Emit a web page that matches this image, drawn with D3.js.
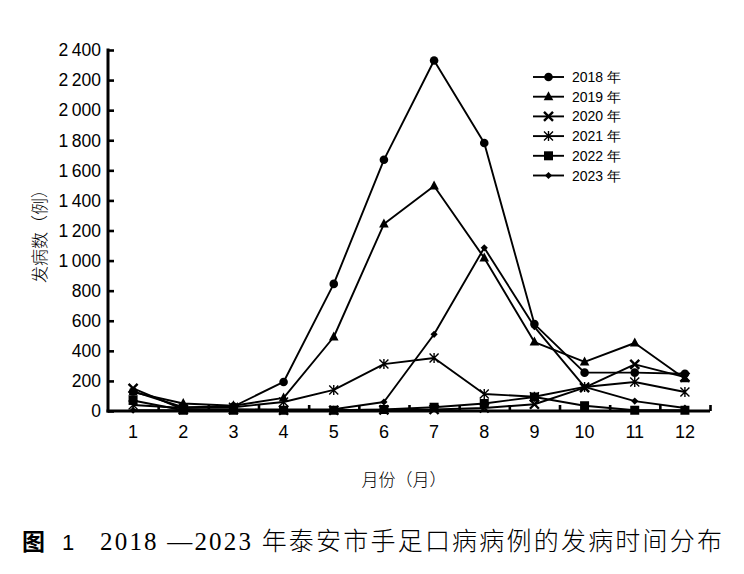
<!DOCTYPE html>
<html><head><meta charset="utf-8">
<script src="https://cdn.jsdelivr.net/npm/d3@7/dist/d3.min.js"></script>
<style>body{margin:0;background:#fff}svg{display:block}</style>
</head><body>
<svg id="c" width="744" height="574"></svg>
<script>
const months = [1,2,3,4,5,6,7,8,9,10,11,12];
const yTicks = [0,200,400,600,800,1000,1200,1400,1600,1800,2000,2200,2400];
const seriesNames = ["2018 年","2019 年","2020 年","2021 年","2022 年","2023 年"];
const markers = ["circle","triangle","cross","asterisk","square","diamond"];
const v2018 = [130, 25, 30, 193, 845, 1670, 2330, 1782, 578, 255, 255, 248];
const v2019 = [125, 50, 35, 87, 492, 1243, 1496, 1017, 458, 326, 452, 215];
const v2020 = [150, 10, 10, 5, 5, 8, 10, 20, 45, 155, 310, 225];
const v2021 = [40, 20, 25, 60, 140, 312, 352, 113, 95, 160, 193, 126];
const v2022 = [70, 5, 5, 5, 5, 10, 25, 50, 93, 35, 5, 5];
const v2023 = [5, 5, 10, 10, 12, 60, 510, 1085, 560, 160, 66, 20];
const seriesValues = [v2018, v2019, v2020, v2021, v2022, v2023];
const xTitle = "月份（月）";
const yTitle = "发病数（例）";
const captionLabel = ["图", "1"];
const captionText = "2018 —2023 年泰安市手足口病病例的发病时间分布";

const svg = d3.select("#c");
const x = d3.scaleLinear().domain([0.5, 12.5]).range([108, 710]);
const y = d3.scaleLinear().domain([0, 2400]).range([411, 50]);
const fmt = v => v >= 1000 ? Math.floor(v/1000) + "\u2009" + String(v%1000).padStart(3,"0") : String(v);

function drawMarker(g, type, cx, cy) {
  if (type === "circle") g.append("circle").attr("cx",cx).attr("cy",cy).attr("r",4.3).attr("fill","#000");
  else if (type === "triangle") g.append("path").attr("d",`M${cx},${cy-5.5}L${cx+4.8},${cy+3.5}L${cx-4.8},${cy+3.5}Z`).attr("fill","#000");
  else if (type === "square") g.append("rect").attr("x",cx-4.5).attr("y",cy-4.5).attr("width",9).attr("height",9).attr("fill","#000");
  else if (type === "diamond") g.append("path").attr("d",`M${cx},${cy-3.6}L${cx+3.6},${cy}L${cx},${cy+3.6}L${cx-3.6},${cy}Z`).attr("fill","#000");
  else if (type === "cross") g.append("path").attr("d",`M${cx-4.5},${cy-4.5}L${cx+4.5},${cy+4.5}M${cx+4.5},${cy-4.5}L${cx-4.5},${cy+4.5}`).attr("stroke","#000").attr("stroke-width",2.4);
  else if (type === "asterisk") g.append("path").attr("d",`M${cx-4.5},${cy-4.5}L${cx+4.5},${cy+4.5}M${cx+4.5},${cy-4.5}L${cx-4.5},${cy+4.5}M${cx},${cy-5}L${cx},${cy+5}`).attr("stroke","#000").attr("stroke-width",1.4);
}

// series
const line = d3.line().x((d,i)=>x(months[i])).y(d=>y(d));
const gS = svg.append("g");
seriesValues.forEach((vals, s) => {
  gS.append("path").attr("d", line(vals)).attr("fill","none").attr("stroke","#000").attr("stroke-width",1.9).attr("stroke-linejoin","round");
});
seriesValues.forEach((vals, s) => {
  const g = gS.append("g");
  vals.forEach((v,i) => drawMarker(g, markers[s], x(months[i]), y(v)));
});

// axes
const yAxis = d3.axisRight(y).tickValues(yTicks).tickSize(6).tickFormat("");
const gy = svg.append("g").attr("transform","translate(108,0)").call(yAxis);
gy.select(".domain").attr("stroke","#000").attr("stroke-width",3).attr("d","M0,412.5V48.5");
gy.selectAll(".tick line").attr("stroke","#000").attr("stroke-width",2.6);
svg.append("g").selectAll("text").data(yTicks).join("text")
  .attr("x",101).attr("y",d=>y(d)).attr("dy","0.36em").attr("text-anchor","end")
  .attr("font-family","Liberation Sans, Arial, sans-serif").attr("font-size",17.5).attr("fill","#000")
  .text(fmt);

const halfTicks = d3.range(0.5, 12.6, 1).slice(1);
const xAxis = d3.axisTop(x).tickValues(halfTicks).tickSize(6).tickFormat("");
const gx = svg.append("g").attr("transform","translate(0,411)").call(xAxis);
gx.select(".domain").attr("stroke","#000").attr("stroke-width",3).attr("d","M106.5,0H710");
gx.selectAll(".tick line").attr("stroke","#000").attr("stroke-width",2.6);
svg.append("g").selectAll("text").data(months).join("text")
  .attr("x",d=>x(d)).attr("y",438).attr("text-anchor","middle")
  .attr("font-family","Liberation Sans, Arial, sans-serif").attr("font-size",18).attr("fill","#000")
  .text(d=>d);

// titles
svg.append("text").attr("x",404).attr("y",486).attr("text-anchor","middle")
  .attr("font-family","Noto Sans CJK SC, sans-serif").attr("font-weight",300).attr("font-size",17).attr("fill","#000").text(xTitle);
svg.append("text").attr("transform","translate(46,232) rotate(-90)").attr("text-anchor","middle")
  .attr("font-family","Noto Sans CJK SC, sans-serif").attr("font-weight",300).attr("font-size",17).attr("fill","#000").text(yTitle);

// legend
const lg = svg.append("g");
seriesNames.forEach((n, i) => {
  const ly = 77 + i*19.7;
  lg.append("line").attr("x1",533).attr("x2",564).attr("y1",ly).attr("y2",ly).attr("stroke","#000").attr("stroke-width",1.9);
  drawMarker(lg, markers[i], 548.5, ly);
  lg.append("text").attr("x",572).attr("y",ly).attr("dy","0.36em")
    .attr("font-family","Liberation Sans, Arial, sans-serif").attr("font-size",14).attr("fill","#000").text(n);
});

// caption
svg.append("text").attr("x",22).attr("y",550).attr("font-family","Noto Sans CJK SC, sans-serif").attr("font-weight",700)
  .attr("font-size",23).attr("fill","#000").text(captionLabel[0]);
svg.append("text").attr("x",62).attr("y",550).attr("font-family","Liberation Sans, Arial, sans-serif").attr("font-weight",400)
  .attr("font-size",22).attr("fill","#000").text(captionLabel[1]);
svg.append("text").attr("x",100).attr("y",550).attr("font-family","Liberation Serif, Noto Sans CJK SC, serif").attr("font-weight",300)
  .attr("font-size",25).attr("fill","#000").attr("textLength",622).attr("lengthAdjust","spacing").text(captionText);
</script>
</body></html>
